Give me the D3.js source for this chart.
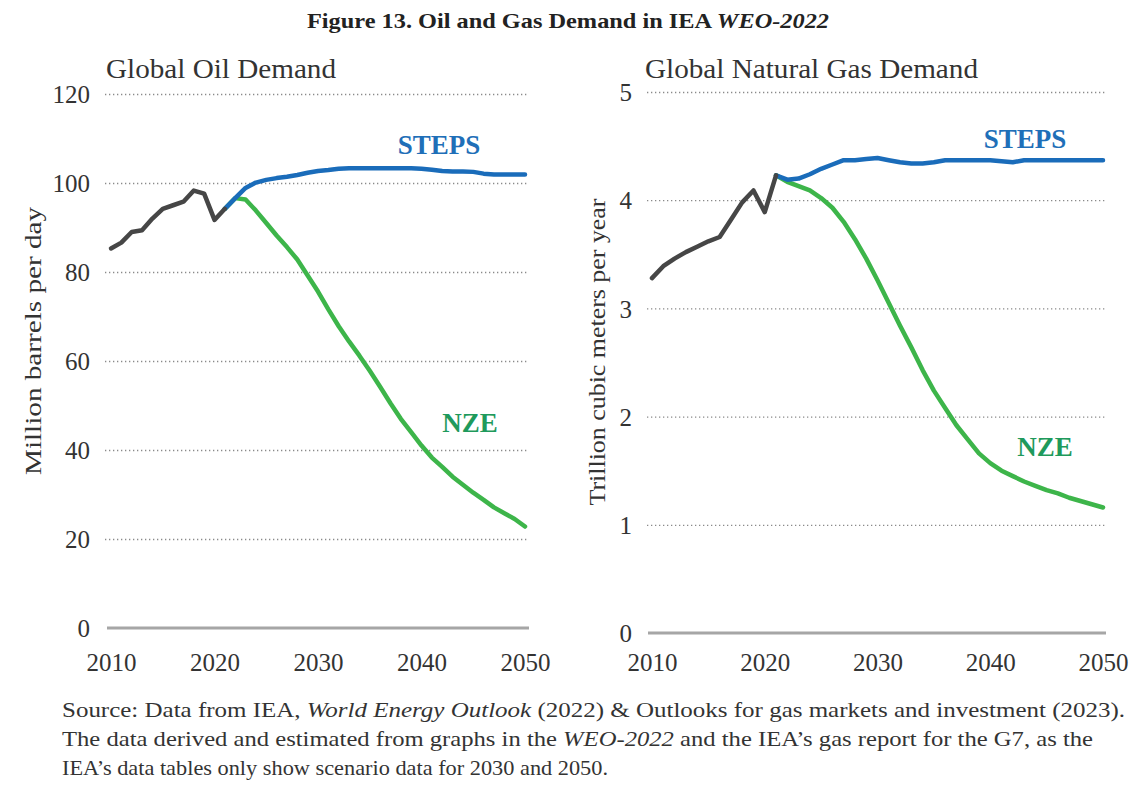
<!DOCTYPE html>
<html>
<head>
<meta charset="utf-8">
<script src="https://cdn.jsdelivr.net/npm/d3@7"></script>
<style>
  body { margin: 0; background: #fff; }
  svg text { font-family: "Liberation Serif", serif; fill: #333; }
</style>
</head>
<body>
<svg id="chart" width="1136" height="787" font-family="Liberation Serif"></svg>
<script>
// === Data ===
const histYears = [2010, 2011, 2012, 2013, 2014, 2015, 2016, 2017, 2018, 2019, 2020, 2021];
const projYears = [2021, 2022, 2023, 2024, 2025, 2026, 2027, 2028, 2029, 2030,
    2031, 2032, 2033, 2034, 2035, 2036, 2037, 2038, 2039, 2040,
    2041, 2042, 2043, 2044, 2045, 2046, 2047, 2048, 2049, 2050];
const xTicks = [2010, 2020, 2030, 2040, 2050];

// oil, million barrels per day
const oilHistory = [85.3, 86.6, 89.0, 89.4, 92.0, 94.2, 95.0, 95.8, 98.3, 97.6, 91.7, 94.2];
const oilSteps = [94.2, 96.6, 98.9, 100.1, 100.7, 101.1, 101.4, 101.8, 102.3, 102.7,
    102.9, 103.2, 103.3, 103.3, 103.3, 103.3, 103.3, 103.3, 103.3, 103.2,
    103.0, 102.7, 102.6, 102.6, 102.5, 102.1, 101.9, 101.9, 101.9, 101.9];
const oilNze = [94.2, 96.6, 96.3, 93.8, 91.0, 88.2, 85.6, 82.8, 79.2, 75.6,
    71.6, 67.8, 64.4, 61.2, 57.8, 54.2, 50.5, 47.0, 44.0, 41.0,
    38.3, 36.2, 34.0, 32.2, 30.4, 28.8, 27.1, 25.8, 24.5, 22.8];
const oilTicks = [0, 20, 40, 60, 80, 100, 120];

// gas, trillion cubic meters per year
const gasHistory = [3.28, 3.39, 3.46, 3.52, 3.57, 3.62, 3.66, 3.82, 3.98, 4.09, 3.89, 4.23];
const gasSteps = [4.23, 4.19, 4.20, 4.24, 4.29, 4.33, 4.37, 4.37, 4.38, 4.39,
    4.37, 4.35, 4.34, 4.34, 4.35, 4.37, 4.37, 4.37, 4.37, 4.37,
    4.36, 4.35, 4.37, 4.37, 4.37, 4.37, 4.37, 4.37, 4.37, 4.37];
const gasNze = [4.23, 4.17, 4.13, 4.09, 4.02, 3.93, 3.80, 3.64, 3.46, 3.26,
    3.05, 2.84, 2.64, 2.43, 2.24, 2.08, 1.92, 1.79, 1.66, 1.57,
    1.50, 1.45, 1.40, 1.36, 1.32, 1.29, 1.25, 1.22, 1.19, 1.16];
const gasTicks = [0, 1, 2, 3, 4, 5];

const COL_HIST = "#464646", COL_STEPS = "#1a6cba", COL_NZE = "#3db54a";
const COL_STEPS_TXT = "#1f6fb8", COL_NZE_TXT = "#1f9a5c";
const SERIF = "Liberation Serif";

const svg = d3.select("#chart");

// title
svg.append("text")
    .attr("x", 568).attr("y", 28)
    .attr("text-anchor", "middle")
    .attr("textLength", 522).attr("lengthAdjust", "spacingAndGlyphs")
    .style("font-size", "21px").style("font-weight", "bold").style("fill", "#222")
    .call(t => {
        t.append("tspan").text("Figure 13. Oil and Gas Demand in IEA ");
        t.append("tspan").style("font-style", "italic").text("WEO-2022");
    });

function panel(cfg) {
    const x = d3.scaleLinear().domain([2010, 2050]).range([cfg.x0, cfg.x1]);
    const y = d3.scaleLinear().domain([0, cfg.yMax]).range([cfg.yBase, cfg.yTop]);
    const g = svg.append("g");

    // dotted gridlines
    g.append("g")
        .attr("transform", `translate(${cfg.gridL},0)`)
        .call(d3.axisLeft(y).tickValues(cfg.ticks.filter(d => d > 0))
            .tickSize(-(cfg.gridR - cfg.gridL)).tickFormat(""))
        .call(a => a.select(".domain").remove())
        .selectAll("line")
        .attr("stroke", "#8a8a8a").attr("stroke-width", 1.3)
        .attr("stroke-dasharray", "1.3,2.7");

    // baseline
    g.append("line")
        .attr("x1", cfg.baseL).attr("x2", cfg.gridR)
        .attr("y1", y(0)).attr("y2", y(0))
        .attr("stroke", "#a6a6a6").attr("stroke-width", 3);

    // y tick labels
    g.append("g")
        .attr("transform", `translate(${cfg.tickX},0)`)
        .call(d3.axisLeft(y).tickValues(cfg.ticks).tickFormat(d3.format("d")).tickSize(0).tickPadding(0))
        .attr("font-family", SERIF).attr("font-size", 25)
        .call(a => a.select(".domain").remove())
        .selectAll("text")
        .attr("dy", "0.35em")
        .style("font-family", SERIF).style("fill", "#333");

    // x tick labels
    g.append("g")
        .attr("transform", `translate(0,${cfg.xLabY})`)
        .call(d3.axisBottom(x).tickValues(xTicks).tickFormat(d3.format("d")).tickSize(0).tickPadding(0))
        .attr("font-family", SERIF).attr("font-size", 25)
        .call(a => a.select(".domain").remove())
        .selectAll("text")
        .attr("dy", "0.35em")
        .style("font-family", SERIF).style("fill", "#333");

    // panel title
    g.append("text")
        .attr("x", cfg.titleX).attr("y", 78)
        .attr("textLength", cfg.titleW).attr("lengthAdjust", "spacingAndGlyphs")
        .style("font-size", "27px").style("fill", "#333")
        .text(cfg.title);

    // y axis title
    g.append("text")
        .attr("transform", `translate(${cfg.yTitleX},${cfg.yTitleY}) rotate(-90)`)
        .attr("text-anchor", "middle").attr("dy", "0.35em")
        .attr("textLength", cfg.yTitleW).attr("lengthAdjust", "spacingAndGlyphs")
        .style("font-size", "24px").style("fill", "#333")
        .text(cfg.yTitle);

    const line = d3.line().x(d => x(d[0])).y(d => y(d[1]));
    const draw = (years, vals, col) => g.append("path")
        .datum(years.map((yr, i) => [yr, vals[i]]))
        .attr("d", line)
        .attr("fill", "none").attr("stroke", col)
        .attr("stroke-width", 4.5)
        .attr("stroke-linejoin", "round").attr("stroke-linecap", "round");

    draw(projYears, cfg.nze, COL_NZE);
    draw(projYears, cfg.steps, COL_STEPS);
    draw(histYears, cfg.hist, COL_HIST);

    // series labels
    g.append("text")
        .attr("x", cfg.stepsLab[0]).attr("y", cfg.stepsLab[1])
        .attr("text-anchor", "middle").attr("dy", "0.35em")
        .style("font-size", "27px").style("font-weight", "bold").style("fill", COL_STEPS_TXT)
        .text("STEPS");
    g.append("text")
        .attr("x", cfg.nzeLab[0]).attr("y", cfg.nzeLab[1])
        .attr("text-anchor", "middle").attr("dy", "0.35em")
        .style("font-size", "27px").style("font-weight", "bold").style("fill", COL_NZE_TXT)
        .text("NZE");
}

panel({
    title: "Global Oil Demand", titleX: 106, titleW: 230,
    yTitle: "Million barrels per day", yTitleX: 33, yTitleY: 341, yTitleW: 268,
    x0: 111, x1: 525, gridL: 105, gridR: 529, baseL: 107,
    yBase: 628, yTop: 94, yMax: 120, ticks: oilTicks, tickX: 90, xLabY: 662,
    hist: oilHistory, steps: oilSteps, nze: oilNze,
    stepsLab: [439, 145], nzeLab: [470, 423]
});

panel({
    title: "Global Natural Gas Demand", titleX: 645, titleW: 333,
    yTitle: "Trillion cubic meters per year", yTitleX: 597, yTitleY: 352, yTitleW: 307,
    x0: 652, x1: 1103, gridL: 647, gridR: 1106, baseL: 648,
    yBase: 633, yTop: 92, yMax: 5, ticks: gasTicks, tickX: 632, xLabY: 662,
    hist: gasHistory, steps: gasSteps, nze: gasNze,
    stepsLab: [1025, 139], nzeLab: [1045, 447]
});

// source note
const noteWidths = [1063, 1031, 546];
const notes = [
    [["Source: Data from IEA, ", false], ["World Energy Outlook", true], [" (2022) & Outlooks for gas markets and investment (2023).", false]],
    [["The data derived and estimated from graphs in the ", false], ["WEO-2022", true], [" and the IEA\u2019s gas report for the G7, as the", false]],
    [["IEA\u2019s data tables only show scenario data for 2030 and 2050.", false]]
];
notes.forEach((parts, i) => {
    const t = svg.append("text")
        .attr("x", 62).attr("y", 717 + i * 29)
        .attr("textLength", noteWidths[i]).attr("lengthAdjust", "spacingAndGlyphs")
        .style("font-size", "22px").style("fill", "#333");
    parts.forEach(p => t.append("tspan").style("font-style", p[1] ? "italic" : "normal").text(p[0]));
});
</script>
</body>
</html>
